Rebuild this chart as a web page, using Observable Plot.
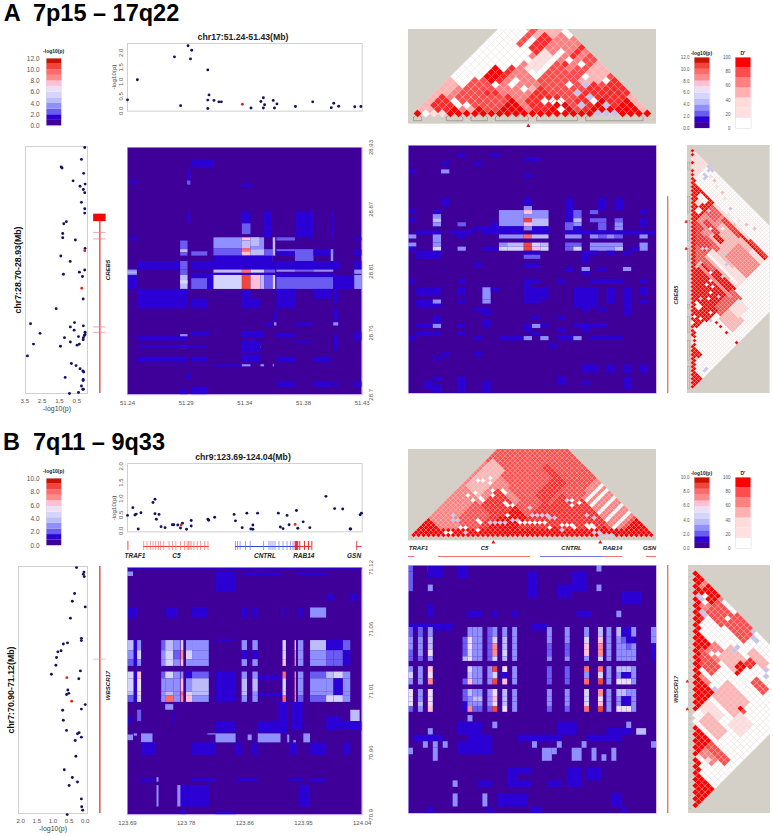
<!DOCTYPE html>
<html><head><meta charset="utf-8">
<script src="https://cdn.jsdelivr.net/npm/d3@7"></script>
<script src="https://cdn.jsdelivr.net/npm/@observablehq/plot@0.6"></script>
<style>
html,body{margin:0;padding:0;background:#fff}
#root{position:relative;width:773px;height:836px;overflow:hidden;font-family:"Liberation Sans",Arial,sans-serif}
.lb{position:absolute;white-space:pre;transform-origin:center}
</style></head><body><div id="root"></div>
<script>
// ---------- colour keys ----------
const heatPalette=["#3f0099","#2a00d5","#6a5cf0","#8f8fff","#bcbcfa","#d4d4ff","#ebe0f5","#ffc0d8","#ff8c8c","#ff6a6a","#f0453a","#cc1100"];
const dprimePalette=["#ffffff","#ffe0e0","#ffb4b4","#ff8080","#ff4d4d","#ff2a2a","#ff0000","#c2c6ee"];
const legendDprimeColors=["#ffffff","#ffe0e0","#ffdcdc","#ffb0b0","#ff8080","#ff4d4d","#ff0000"];
// ---------- panel A: association points ----------
const topA=[[51.240,.38],[51.248,1.07],[51.278,1.86],[51.283,.18],[51.289,2.24],[51.292,2.09],[51.291,1.79],[51.305,1.41],[51.306,.55],[51.305,.37],[51.305,.08],[51.310,.36],[51.314,.31],[51.316,.31],[51.340,.10],[51.348,.32],[51.350,.45],[51.351,.21],[51.350,.10],[51.358,.36],[51.361,.24],[51.359,.10],[51.376,.15],[51.390,.31],[51.405,.11],[51.407,.26],[51.411,.16],[51.424,.14],[51.429,.15]];
const topARed=[[51.333,.23]];
const sideA=[[.04,28.929],[.23,28.918],[1.40,28.911],[1.35,28.910],[.10,28.905],[.71,28.898],[.02,28.895],[.31,28.893],[.12,28.890],[.04,28.887],[.23,28.878],[.04,28.872],[.04,28.868],[1.10,28.860],[1.25,28.858],[1.31,28.849],[1.31,28.845],[.58,28.843],[.02,28.835],[1.42,28.828],[.88,28.823],[.04,28.815],[.35,28.813],[1.27,28.811],[.17,28.809],[.13,28.788],[1.69,28.779],[3.17,28.765],[.63,28.766],[.12,28.763],[.87,28.762],[.65,28.759],[2.62,28.756],[.02,28.757],[.02,28.755],[.06,28.754],[1.21,28.752],[.40,28.753],[.12,28.752],[.13,28.750],[.87,28.748],[3.00,28.746],[.35,28.746],[.48,28.745],[1.44,28.744],[3.35,28.735],[.81,28.728],[.54,28.726],[.31,28.723],[.15,28.721],[.10,28.720],[1.17,28.715],[.13,28.713],[.13,28.712],[.23,28.707],[.15,28.704],[.12,28.704],[.40,28.701],[.92,28.700]];
const sideARed=[[.04,28.833],[.21,28.798]];
// ---------- panel B: association points ----------
const topB=[[123.690,.48],[123.698,.72],[123.701,.49],[123.703,.52],[123.706,.06],[123.710,.56],[123.728,.88],[123.731,.98],[123.731,.53],[123.737,.51],[123.733,.36],[123.740,.13],[123.746,.10],[123.757,.19],[123.759,.19],[123.765,.18],[123.769,.09],[123.772,.24],[123.778,.05],[123.785,.15],[123.785,.32],[123.810,.36],[123.811,.33],[123.820,.42],[123.849,.51],[123.851,.31],[123.861,.10],[123.868,.55],[123.874,.06],[123.877,.05],[123.877,.18],[123.884,.55],[123.915,.55],[123.918,.12],[123.922,.07],[123.928,.48],[123.931,.19],[123.942,.63],[123.944,.08],[123.952,.28],[123.962,.10],[123.986,1.07],[123.999,.69],[124.011,.68],[124.022,.06],[124.023,.06],[124.037,.50],[124.039,.55]];
const topBRed=[[123.770,.18],[123.940,.20]];
const sideB=[[.27,71.119],[.04,71.115],[.06,71.113],[.03,71.111],[.33,71.096],[.40,71.089],[0,71.084],[.46,71.074],[.12,71.056],[.12,71.054],[.55,71.052],[.68,71.051],[.75,71.045],[.85,71.044],[.89,71.039],[.91,71.032],[.15,71.027],[1.05,71.024],[.20,71.020],[.54,71.010],[.51,71.007],[.58,71.006],[0,70.997],[.12,70.993],[.70,70.992],[.68,70.983],[.58,70.974],[.19,70.972],[.24,70.971],[.12,70.968],[.31,70.965],[.29,70.951],[.65,70.939],[.40,70.932],[.24,70.928],[.50,70.925],[.12,70.913],[.11,70.906],[.08,70.903],[.56,70.899]];
const sideBRed=[[.57,71.021],[.42,71.000]];
// ---------- gene models (kb from window start) ----------
const c5Exons=[24,29,34,38,42,46,49,54,62,67,72,79,85,89,91,93,95,99,104,109,115,120];
const cntrlExons=[161,164,168,176,183,203,211,214,217,220,226,232,238,243,247];
const rab14Exons=[250,251,252,253,254,257,264,270,275];
const otherExons=[0.5,342];
const geneLinesB=[{a:24,b:122,c:"#e02828"},{a:161,b:251,c:"#2030d8"},{a:250,b:275,c:"#e02828"},{a:342,b:350,c:"#e02828"}];
const geneNamesB=[{k:11,t:"TRAF1"},{k:73,t:"C5"},{k:205,t:"CNTRL"},{k:263,t:"RAB14"},{k:338,t:"GSN"}];
const creb5Exons=[28.850,28.844,28.762,28.757];
// ---------- interaction heat maps: [x1,x2,y1,y2,level], kb from window start ----------
const heatALeft=[[0,190,0,230,0],[52.6,70.2,211,218,1],[1.4,8,196,199,1],[48.6,51.3,195,199,2],[48.6,51.3,199,210,1],[93,101,193,196,1],[48.6,51.3,159,170,1],[93,100,159,170,1],[93,100,149,159,2],[111,117,146,170,1],[136,151,146,170,1],[165,167,146,170,1],
[1.4,8,143,146,1],[43,49,135,143,2],[43,49,132,135,4],[43,49,129,132,2],[52,65,129,133,2],[70,93,136,146,3],[70,93,129,136,2],[93,100,143,146,7],[93,100,136,143,4],[93,100,133,136,9],[93,100,129,133,7],[100,111,135,146,3],[100,107,138,146,4],[100,111,129,135,4],[111,118,124,135,2],[118,120,129,146,4],[121,136,143,146,2],[121,136,133,135,2],[121,136,129,133,1],[136,151,124,135,2],[151,165,129,135,1],[165,167,124,135,3],[184,190,143,146,1],[184,190,129,135,1],
[8,43,116,124,1],[43,49,116,124,2],[52,70,116,124,1],[70,118,116,129,1],[118,167,116,124,1],[167,172,116,124,1],[184,190,116,124,1],
[0,8,111,116,3],[0,8,113,114,4],[43,49,111,116,2],[52,70,108,113,1],[70,93,113,116,4],[93,100,112,116,9],[100,111,113,116,5],[111,120,113,116,2],[121,136,114,116,3],[136,151,114,116,2],[151,167,114,116,3],[184,190,112,116,3],[70,167,109,113,1],
[0,8,98,111,1],[43,49,98,111,4],[43,49,103,106,5],[52,65,98,108,2],[65,70,98,108,1],[70,93,98,111,5],[93,100,98,111,10],[100,108,98,111,7],[108,111,98,111,4],[111,118,98,111,2],[118,120,98,111,5],[121,167,98,109,2],[167,172,98,111,1],[172,184,98,110,1],[184,190,98,111,3],
[8,49,80,98,1],[52,65,80,89,1],[93,108,80,89,1],[93,100,89,98,1],[121,136,80,98,1],[151,165,89,98,1],[167,171,85,98,1],[167,171,68,80,1],[167,171,64,67,3],[119,121,64,67,3],[112,118,64,67,1],[136,150,64,67,1],[119,121,68,78,1],
[8,49,50,54,1],[43,49,54,56,3],[43,49,43,45,3],[8,65,43,45,1],[52,67,54,59,1],[93,111,53,59,1],[121,136,53,57,1],[100,108,43,45,3],[93,108,39,50,1],[136,150,48,50,1],[167,171,42,56,1],[184,190,50,58,1],
[8,49,30,35,1],[52,65,30,35,1],[93,108,30,37,1],[121,136,30,35,1],[151,165,30,35,1],[70,93,26,28,1],[93,100,26,28,3],[108,111,26,28,3],[118,119,26,28,3],[121,136,7,12,1],[151,165,7,12,1],[167,171,7,12,1],[184,190,7,12,1],[52,65,0,7,1],[43,49,0,5,1],[48,52,14,19,1]];
const heatBBands=[[146,155],[138,146],[132,138],[121,127],[109,121],[106,109],[100,106]];
const heatBColumns=[{a:0,b:10,v:[4,3,2,5,5,4,2]},{a:10,b:15,v:[1,1,1,1,1,1,1]},{a:15,b:21,v:[3,5,3,7,6,6,5]},{a:51,b:57,v:[2,3,3,2,3,3,3]},{a:57,b:69,v:[4,5,5,5,3,4,9]},{a:69,b:79,v:[3,2,3,3,3,3,3]},{a:80,b:84,v:[5,8,7,3,7,9,8]},{a:88,b:97,v:[3,5,3,1,3,5,7]},{a:97,b:122,v:[3,3,3,2,4,4,3]},{a:171,b:179,v:[3,1,3,3,4,4,3]},{a:187,b:195,v:[3,1,3,3,4,3,3]},{a:232,b:237,v:[5,5,7,9,5,5,9]},{a:250,b:252,v:[7,8,8,8,8,8,8]},{a:255,b:263,v:[3,3,3,3,3,3,2]},{a:273,b:297,v:[4,3,3,2,3,3,2]},{a:297,b:308,v:[1,2,2,4,3,3,5]},{a:308,b:322,v:[1,2,2,5,1,1,5]},{a:322,b:333,v:[2,1,1,3,3,3,3]}];
const heatBLeft=[[0,350,0,220,0],[0,9,212,216,3],[132,162,198,216,1],[174,229,212,215,1],[253,298,212,215,1],[298,308,190,196,1],[333,343,190,196,1],[0,350,218,220,1],[0,15,175,184,1],[57,75,175,184,1],[97,120,175,184,1],[171,179,175,184,1],[187,194,175,184,1],[233,237,175,184,1],[256,262,175,184,1],[273,297,175,184,3],[132,160,154,156,1],
[132,162,100,127,1],[195,230,120,123,1],[195,240,105,108,1],[57,69,93,98,3],[15,21,83,93,2],[333,347,83,93,4],[297,320,82,87,1],[297,350,75,83,1],[0,6,80,87,1],[69,73,80,90,1],[132,162,73,83,1],[195,229,73,83,1],[245,262,75,100,1],[226,240,72,100,1],
[0,9,66,71,3],[21,38,64,72,3],[10,15,70,72,3],[120,132,71,72,3],[132,162,64,72,3],[180,186,66,71,3],[195,229,64,72,3],[239,242,64,71,3],[263,273,64,72,3],[248,252,62,66,3],
[21,42,53,64,1],[97,132,53,64,1],[162,171,53,64,1],[187,195,53,64,1],[243,253,53,64,1],[273,297,53,64,1],[322,333,53,64,1],[44,47,29,33,3],[18,40,29,32,1],[97,132,29,32,1],[162,195,29,32,1],[243,263,29,32,1],[273,297,29,32,1],[44,47,7,26,3],[75,80,7,26,3],[80,122,7,26,1],[256,273,7,26,1],[132,162,0,3,1],[80,88,0,4,1]];
// right-hand heat maps on the marker grid: [col1,col2,row1,row2,level]
const heatARight=[[6,6,2,2,1],[10,10,2,2,1],[14,15,3,3,1],[4,4,4,4,1],[8,8,4,4,1],[0,0,6,6,1],[4,4,6,6,3],[14,14,7,7,1],[4,4,13,14,1],[14,14,13,14,1],[19,19,13,15,1],[23,23,13,15,1],[25,25,13,15,1],[14,14,15,15,3],
[0,0,16,16,1],[3,3,16,16,1],[11,13,16,19,3],[14,14,16,16,7],[15,16,16,17,3],[19,19,16,17,1],[20,20,16,17,2],[22,22,16,16,2],[28,28,16,16,1],[3,3,17,17,3],[14,14,17,17,3],[0,0,18,18,1],[3,3,18,18,4],[14,14,18,18,10],[15,16,18,19,4],[19,19,18,18,1],[20,20,18,18,4],[22,23,18,18,2],[25,25,18,18,2],[28,28,18,19,1],[3,3,19,19,3],[6,6,19,19,2],[10,10,19,19,1],[14,14,19,19,7],[19,19,19,20,2],[20,20,19,19,3],[23,23,19,20,2],[25,25,19,19,3],[25,25,20,20,3],[8,8,20,20,1],[9,13,20,21,1],[14,14,20,20,3],[15,16,20,21,1],[20,20,20,21,1],[1,3,21,21,1],[5,7,21,21,1],[19,29,21,21,1],
[0,0,22,22,3],[3,3,22,23,3],[6,6,22,22,1],[11,13,22,22,3],[14,14,22,22,9],[15,16,22,22,4],[19,20,22,22,3],[22,22,22,22,3],[23,23,22,22,2],[24,24,22,22,3],[25,25,22,22,2],[28,28,22,22,3],
[0,0,24,24,3],[3,3,24,24,3],[11,11,24,24,3],[12,13,24,24,4],[14,14,24,24,10],[15,15,24,24,5],[16,16,24,24,4],[19,20,24,24,2],[22,25,24,24,3],[28,28,24,25,3],[0,0,25,25,1],[3,3,25,25,5],[6,6,25,25,3],[9,10,25,25,1],[11,11,25,25,5],[12,13,25,25,5],[14,14,25,25,10],[15,15,25,25,7],[16,16,25,25,5],[19,19,25,25,2],[20,20,25,25,5],[22,24,25,25,3],[25,25,25,25,4],[27,27,25,25,1],[1,3,26,27,1],[14,15,26,26,1],[14,15,27,27,2],[21,22,26,26,1],[24,24,26,26,1],[26,26,26,26,1],[21,21,27,28,1],[8,8,29,29,1],[14,15,29,29,1],[19,19,30,30,1],[21,21,30,30,3],[23,23,30,30,1],[26,26,30,30,3],[21,21,31,31,1],
[0,0,33,33,1],[6,6,33,33,1],[14,15,33,33,1],[18,18,33,33,1],[22,25,33,33,1],[28,28,33,33,1],[14,14,34,34,1],[1,3,35,36,1],[6,6,35,36,1],[9,9,35,37,3],[10,10,35,35,1],[14,16,35,37,1],[20,22,35,39,1],[24,24,35,38,1],[26,26,35,39,1],[28,28,35,36,1],[1,3,38,39,1],[3,3,38,38,3],[6,6,38,38,1],[9,9,38,38,3],[14,15,38,38,1],[28,28,38,38,1],[21,21,40,40,1],[23,23,40,40,1],[26,26,40,41,1],[8,9,40,40,1],[9,9,41,41,1],[18,18,42,42,1],[15,15,42,42,1],[3,3,42,43,1],[9,9,43,43,1],[1,3,44,44,1],[3,3,44,44,3],[6,6,44,44,1],[9,9,44,44,1],[14,16,44,44,1],[15,15,44,44,3],[20,23,44,44,1],[18,18,45,45,1],[14,14,45,45,1],[21,21,45,45,1],[1,3,46,46,1],[6,6,46,46,1],[15,15,46,46,1],[0,0,47,47,1],[8,8,47,47,1],[11,13,47,47,1],[14,14,47,47,3],[16,16,47,47,3],[18,19,47,47,1],[20,20,47,47,3],[22,22,47,47,1],[23,25,47,47,1],[17,17,49,49,1],[4,4,51,51,1],[8,8,51,51,1],[3,3,52,52,1],[21,22,54,55,1],[24,24,54,55,1],[26,26,54,55,1],[28,28,54,55,1],[3,3,57,57,1],[6,6,57,58,1],[18,18,57,58,1],[26,26,57,59,1],[2,2,58,59,1],[6,6,58,60,1],[9,9,58,60,1],[21,21,58,58,1],[3,3,59,60,1]];
const heatBRightBands=[[9.5,11],[11,12],[12,13],[13,14],[14,14.7],[15.5,16.4],[16.4,17.4],[17.4,18.3],[19,20.1],[20.1,20.9],[20.9,21.6],[21.6,22.5]];
const heatBRightColumns=[{c:0,v:[2,3,3,2,2,3,5,3,6,6,6,2]},{c:2,v:[2,3,3,3,2,3,3,3,3,3,4,3]},{c:4,v:[3,4,4,6,3,7,6,8,6,6,6,7]},{c:11,v:[0,2,2,2,4,0,0,2,2,2,1,1]},{c:12,v:[3,6,6,5,6,5,4,7,4,3,3,8]},{c:13,v:[3,3,3,3,3,3,3,3,3,4,3,2]},{c:14,v:[3,3,3,3,3,3,3,3,3,4,3,2]},{c:16,v:[2,2,2,2,2,3,3,3,3,3,3,2]},{c:17,v:[3,5,8,8,5,10,5,10,6,7,6,10]},{c:19,v:[3,4,4,5,4,6,1,7,4,4,4,6]},{c:21,v:[3,3,3,3,3,3,3,3,3,3,3,3]},{c:28,v:[3,3,2,2,3,2,2,2,3,3,3,2]},{c:31.6,v:[3,3,2,2,3,2,2,2,3,3,3,2]},{c:35.5,v:[3,5,7,7,3,9,3,9,5,5,5,9]},{c:38.3,v:[4,7,8,8,5,9,5,10,8,6,7,10]},{c:40,v:[3,3,3,3,3,3,3,3,3,3,3,3]},{c:42,v:[4,3,3,3,3,4,3,6,4,3,3,6]},{c:43,v:[1,2,3,3,3,4,1,6,4,1,1,6]},{c:44,v:[1,1,2,3,3,4,1,6,3,1,1,6]},{c:45,v:[3,1,3,3,3,3,3,3,3,3,3,3]},{c:49,v:[3,3,1,1,1,0,0,0,0,0,0,0]}];
const heatBRightExtra=[[0,0,0,0,2],[4,4,0,0,3],[38,38,0,0,3],[0,0,1,3,2],[4,6,0,1,1],[10,11,0,1,1],[25,25,2,2,3],[24,25,1,4,1],[33,35,1,3,1],[4,4,3,3,3],[38,38,3,3,3],[12,14,7,7,1],[4,4,6,7,1],[17,17,7,7,1],[21,21,7,7,1],[34,36,7,7,1],[42,42,7,7,3],[0,8,9,9,1],[25,27,9,9,1],[43,46,4,5,1],[30,32,3,4,1],[12,12,23,23,3],[17,17,24,24,3],[4,4,25,25,3],[44,44,24,24,3],[46,47,25,25,4],[10,14,24,25,1],[30,33,24,25,1],[40,44,25,25,1],[1,6,26,26,1],[12,16,26,26,1],[22,30,26,26,1],[36,42,26,26,1],[3,3,27,27,3],[5,5,27,27,3],[7,7,27,27,3],[25,25,27,27,3],[30,30,27,27,3],[35,35,27,27,3],[49,49,27,27,3],[10,16,27,28,1],[0,0,28,28,3],[5,5,28,29,3],[27,28,28,29,3],[29,29,28,28,3],[33,34,28,29,3],[37,37,28,29,3],[39,39,29,29,3],[41,41,28,29,3],[9,9,33,33,3],[9,9,35,36,3],[15,15,35,36,3],[18,23,35,36,1],[20,24,31,31,1],[20,21,32,33,1],[22,24,33,33,1],[28,30,33,33,1],[41,42,35,36,1],[32,34,31,33,1],[36,38,31,32,1],[14,16,33,33,1],[4,4,37,37,1],[16,16,37,37,1],[25,26,37,37,1],[43,43,37,37,1]];
// ---------- LD triangles: [i1,i2,j1,j2,D' level], painted in order; then single cells ----------
const ldTopA=[[0,29,0,29,2],[0,6,9,24,0],[0,2,5,9,2],[2,5,5,9,3],[3,5,8,12,4],[7,14,12,22,3],[14,22,15,29,4],[8,13,24,29,3],[4,9,9,13,4],[1,3,4,6,5],[4,5,14,16,6],[6,6,15,18,5],[4,4,22,26,4],[6,7,23,26,5],[8,9,20,24,1],[10,10,20,26,0],[12,12,24,29,5],[16,18,25,29,2],[0,1,0,1,6],[4,6,4,6,6],[7,9,7,9,6],[10,14,10,14,6],[15,20,15,20,6],[21,28,21,28,6],[12,15,16,20,5],[11,14,20,24,4],[18,20,22,26,5],[20,23,26,29,5]];
const ldTopASpots=[[1,2,0],[3,7,0],[4,7,0],[5,8,0],[14,18,0],[15,19,0],[17,19,0],[15,23,0],[10,23,0],[8,17,0],[8,16,0],[9,20,0],[10,17,0],[16,20,0],[20,24,0],[11,18,2],[17,23,7],[17,25,7],[19,24,7],[19,22,7],[22,23,7],[23,24,7],[22,25,7],[24,25,7],[2,3,1],[3,4,1],[12,26,0],[14,27,0],[16,26,0],[19,28,0],[7,21,0],[6,12,5],[7,13,5],[9,14,5],[8,29,0],[9,29,0]];
const ldTopB=[[0,49,0,49,4],[0,14,8,30,3],[0,7,0,7,6],[3,12,14,30,3],[1,5,22,32,2],[8,26,14,27,5],[14,22,14,22,6],[15,27,15,27,6],[20,30,20,34,5],[27,41,27,41,6],[22,36,32,42,5],[42,49,42,49,6],[26,40,43,49,3],[30,30,43,49,0],[33,33,43,49,0],[36,36,43,49,0],[39,39,43,49,0],[28,28,43,49,0],[13,20,34,42,5],[10,16,30,40,4],[21,26,40,44,4],[6,11,13,20,4],[9,13,10,13,3]];
const ldTopBSpots=[[8,12,0],[9,13,0],[10,12,7],[6,8,0],[7,9,0],[10,17,0],[11,17,0],[12,15,0],[13,19,7],[14,20,7],[15,21,7],[16,22,7],[17,24,7],[18,25,7],[19,25,0],[20,29,7],[21,30,7],[22,31,7],[23,32,7],[24,32,7],[25,33,7],[20,26,0],[21,27,0],[23,29,0],[24,30,0],[28,33,0],[29,34,0],[30,35,0],[31,35,0],[33,38,0],[34,38,0],[34,39,0],[35,39,0],[36,38,7],[37,39,7],[29,32,7],[31,40,7],[33,41,7],[24,39,7],[25,40,0],[26,39,0],[27,41,0],[12,26,0],[13,26,0],[9,28,0],[10,28,0],[8,25,0],[7,26,0],[5,12,7],[4,13,7],[6,13,7],[14,27,0],[15,24,0],[18,30,7],[22,28,0],[26,30,0],[38,39,7],[39,40,7],[40,41,7],[3,20,0],[4,22,0],[5,20,0],[6,22,0],[7,22,0],[2,25,0],[3,26,0],[4,28,0],[5,27,0]];
const ldSideA=[[0,60,0,60,0],[0,8,0,8,1],[8,36,20,46,1],[9,30,26,40,2],[8,19,8,19,6],[9,10,14,17,0],[11,12,15,16,1],[13,14,17,18,0],[9,18,20,26,3],[9,12,20,24,4],[14,15,22,28,5],[17,20,19,23,5],[9,10,26,34,5],[9,9,34,46,6],[12,18,36,46,3],[18,20,26,32,4],[15,16,28,31,6],[8,8,38,46,5],[22,22,30,45,0],[20,21,30,42,1],[23,23,30,42,2],[24,36,32,46,6],[24,25,30,36,4],[25,34,46,50,4],[27,27,32,47,3],[34,47,34,47,6],[37,38,40,42,0],[30,35,50,56,2],[26,30,50,54,1],[40,47,47,50,0],[49,54,49,54,6],[55,60,55,60,6],[20,30,24,30,4],[19,22,24,29,5]];
const ldSideASpots=[[0,1,6],[1,2,6],[3,4,6],[5,6,6],[6,7,6],[0,9,7],[0,10,7],[0,11,7],[1,10,7],[3,10,7],[3,11,7],[4,11,7],[51,54,7],[51,59,7],[52,59,7],[37,50,6],[37,52,6],[37,55,6],[37,60,6],[2,12,1],[2,14,2],[3,16,1],[3,19,2],[4,21,1],[5,25,7],[7,26,1],[8,30,2],[11,20,7],[21,29,7],[22,28,7],[18,35,7],[20,38,7],[24,40,7],[30,44,7],[28,38,0],[29,40,0],[31,41,0],[33,42,0],[30,38,0],[26,36,0],[35,40,7],[38,48,7],[36,46,0],[43,44,0],[44,46,0],[40,45,0],[41,43,0],[15,25,0],[12,28,0],[47,48,1],[48,49,1],[6,30,1],[5,33,2],[4,36,2]];
const ldSideB=[[0,37,0,37,0],[0,4,0,4,6],[0,8,4,9,3],[1,4,9,13,4],[5,9,5,9,5],[0,2,5,8,6],[9,14,9,14,6],[11,13,14,19,4],[8,10,15,18,3],[6,9,18,22,2],[0,3,14,19,4],[7,8,22,23,6],[5,6,23,24,5],[3,4,22,26,2],[15,15,15,20,3],[16,22,16,22,6],[12,16,23,29,2],[18,20,23,27,1],[7,8,27,30,4],[24,29,24,29,6],[25,26,25,26,0],[24,25,30,35,4],[26,27,30,33,3],[31,37,31,37,6],[20,22,25,30,2],[15,18,30,33,1]];
const ldSideBSpots=[[0,19,7],[1,20,7],[1,21,7],[3,5,7],[3,6,7],[5,9,7],[5,8,7],[5,19,7],[6,19,7],[5,28,7],[4,27,7],[14,29,6],[14,30,4],[8,22,6],[9,23,6],[2,6,0],[3,7,0],[7,12,0],[8,12,0],[10,16,0],[9,17,0],[2,13,0],[4,16,0],[6,14,0],[7,16,0],[15,22,7],[28,30,1],[27,32,1],[22,23,0],[23,24,0],[22,24,0],[21,23,0],[23,25,0]];
const ldBlocksTopA=[[0,1],[4,6],[7,9],[10,14],[15,20],[21,28]];
const ldBlocksSideA=[[3.5,5.3],[12,16],[18,23],[25,28],[39,40],[42,46],[48,53],[54.5,60]];
const flaggedMarkers={topA:[14],sideA:[18.25,25],topB:[16.6,38.2],sideB:[17.3,21.6]};
// ---------- tick labels ----------
const ticksA={x:["51.24","51.29","51.34","51.38","51.43"],y:["28.7","28.76","28.81","28.87","28.93"]};
const ticksB={x:["123.69","123.78","123.86","123.95","124.04"],y:["70.9","70.96","71.01","71.06","71.12"]};
const legendA=[0,2,4,6,8,10,12];const legendB=[0,2,4,6,8,10];const legendD=[0,20,40,60,80,100];

const root=document.getElementById("root");
const FONT='"Liberation Sans",Arial,sans-serif';
function label(t,x,y,o={}){const d=document.createElement("div");d.className="lb";d.textContent=t;
 d.style.cssText+=`left:${x}px;top:${y}px;font-size:${o.size||7}px;font-weight:${o.bold?700:400};font-style:${o.italic?"italic":"normal"};color:${o.color||"#222"};transform:translate(-50%,-50%) rotate(${o.rot||0}deg);`;root.appendChild(d)}
function panel(f,opts){const m=Object.assign({l:0,r:0,t:0,b:0},f.m||{});
 const svg=Plot.plot({width:f.x1-f.x0+m.l+m.r,height:f.y1-f.y0+m.t+m.b,marginLeft:m.l,marginRight:m.r,marginTop:m.t,marginBottom:m.b,
  style:{position:"absolute",left:(f.x0-m.l)+"px",top:(f.y0-m.t)+"px",background:"transparent",fontFamily:FONT,overflow:"visible"},...opts});
 root.appendChild(svg);return svg}
const pts=a=>a.map(([x,y])=>({x,y}));
const dotMarks=(a,r)=>[Plot.dot(pts(a),{x:"x",y:"y",r:1.45,fill:"#12125e"}),Plot.dot(pts(r),{x:"x",y:"y",r:1.45,fill:"#e02a20"})];
const axFrame="#cfcfd4",tickC="#555";

function topPanel(f,a,r,domX,domY){panel({...f,m:{l:16,t:2,b:2,r:2}},{x:{domain:domX,axis:null},y:{domain:domY,axis:null},marks:[Plot.frame({stroke:axFrame}),
  Plot.axisY({anchor:"left",ticks:[0,.5,1,1.5,2],tickFormat:d3.format(".1f"),tickSize:0,tickPadding:5,tickRotate:-90,fontSize:6,color:tickC,label:null}),...dotMarks(a,r)]})}
function sidePanel(f,a,r,domX,ticks,domY){panel({...f,m:{b:10,t:1,l:2,r:1}},{x:{domain:domX,axis:null},y:{domain:domY,axis:null},marks:[Plot.frame({stroke:axFrame}),
  Plot.axisX({anchor:"bottom",ticks,tickFormat:d3.format(".1f"),tickSize:0,tickPadding:5,fontSize:6.2,color:tickC,label:null}),...dotMarks(a,r)]})}
function heatRects(data,palette){return Plot.rect(data.map(([a,b,c,d,l])=>({a,b,c,d,l})),{x1:"a",x2:"b",y1:"c",y2:"d",fill:d=>palette[d.l]})}
function leftHeat(f,blocks,xMax,yMax,tx,ty){const xv=tx.map((_,i)=>i*xMax/4),yv=ty.map((_,i)=>i*yMax/4);
 panel({...f,m:{r:18,b:14,l:14,t:8}},{x:{domain:[0,xMax],axis:null},y:{domain:[0,yMax],axis:null},marks:[heatRects(blocks,heatPalette),Plot.frame({stroke:"#bba8ff",strokeWidth:.7}),
  Plot.axisX({anchor:"bottom",ticks:xv,tickFormat:(d,i)=>tx[i],tickSize:0,tickPadding:6,fontSize:6,color:tickC,label:null}),
  Plot.axisY({anchor:"right",ticks:yv,tickFormat:(d,i)=>ty[i],tickSize:0,tickPadding:11,tickRotate:-90,fontSize:6,color:tickC,label:null})]})}
function rightHeat(f,blocks,cols,rows){panel(f,{x:{domain:[0,cols],axis:null},y:{domain:[rows,0],axis:null},marks:[heatRects(blocks,heatPalette),Plot.frame({stroke:"#bba8ff",strokeWidth:.7})]})}
const grid=(b)=>b.map(([a,b2,c,d,l])=>[a,b2+1,c,d+1,l]);
// near = {d, l, from, to}: cells within d of the base take level l for markers from..to
function paint(n,layers,spots,near){const m=new Map();for(const [i1,i2,j1,j2,l] of layers)for(let i=i1;i<=i2;i++)for(let j=Math.max(j1,i+1);j<=j2;j++)if(j<n)m.set(i*1000+j,l);
 if(near)for(let i=near.from;i<=near.to;i++)for(let j=i+1;j<=i+near.d&&j<n;j++)m.set(i*1000+j,near.l);
 for(const [i,j,l] of spots)m.set(i*1000+j,l);return [...m].map(([k,l])=>({i:Math.floor(k/1000),j:k%1000,l}))}
const diamond=()=>({draw(c,s){const r=Math.sqrt(s/Math.PI);c.moveTo(0,-r);c.lineTo(r,0);c.lineTo(0,r);c.lineTo(-r,0);c.closePath()}});
const gray="#d4d0c8";
function triMarks(cells,o){const hor=o.hor;const X=d=>hor?(d.i+d.j)/2:d.j-d.i,Y=d=>hor?d.j-d.i:(d.i+d.j)/2;
 return [Plot.dot(cells,{x:X,y:Y,r:o.r,symbol:diamond(),fill:d=>dprimePalette[d.l],stroke:"#f3dede",strokeWidth:.3,clip:"frame"})]}
function ldPanel(f,cells,dx,dy,r,hor,extra,m){panel({...f,m},{x:{domain:dx,axis:null},y:{domain:dy,axis:null},marks:[Plot.rect([0],{x1:dx[0],x2:dx[1],y1:dy[0],y2:dy[1],fill:gray}),...triMarks(cells,{r,hor}),...extra]})}
const blockLines=(b)=>b.flatMap(([a,c],k)=>[[a,0],[(a+c)/2,c-a],[c,0],[c,-.8],[a,-.8],[a,0]].map(([x,y])=>({x,y,k})));
const flagH=(a,yv)=>Plot.dot(a.map(x=>({x})),{x:"x",y:()=>yv,r:1.5,symbol:"triangle",fill:"#e01818",clip:false});
const flagV=(a,xv)=>Plot.dot(a.map(y=>({y})),{y:"y",x:()=>xv,r:1.3,symbol:"triangle",fill:"#e01818",clip:false});
function legend(x0,y0,y1,w,vals,colors,max,size,title,lx,ty){const n=colors.length,bins=colors.map((c,i)=>({a:i*max/n,b:(i+1)*max/n,c}));
 panel({x0,x1:x0+w,y0,y1,m:{l:26,t:2,b:4,r:1}},{x:{domain:[0,1],axis:null},y:{domain:[0,max],axis:null},marks:[Plot.rect(bins,{x1:()=>0,x2:()=>1,y1:"a",y2:"b",fill:"c"}),Plot.frame({stroke:"#d8d8e0",strokeWidth:.5}),
  Plot.axisY({anchor:"left",ticks:vals,tickFormat:lx,tickSize:0,tickPadding:size>5.5?7:5,fontSize:size,color:tickC,label:null})]});
 label(title,x0+w/2,ty,{size:5,bold:true})}
const f1=d3.format(".1f");

// ---------- headings ----------
label("A  7p15 – 17q22",91.5,13,{size:23.5,bold:true,color:"#000"});
label("B  7q11 – 9q33",84,441.7,{size:23.5,bold:true,color:"#000"});
label("chr17:51.24-51.43(Mb)",243,36.7,{size:8.7,bold:true});
label("chr9:123.69-124.04(Mb)",243,457.3,{size:8.7,bold:true});
label("chr7:28.70-28.93(Mb)",18,270,{size:8.8,bold:true,rot:-90,color:"#111"});
label("chr7:70.90-71.12(Mb)",11,690,{size:8.8,bold:true,rot:-90,color:"#111"});
label("-log10(p)",113,76.7,{size:6.2,rot:-90,color:"#444"});
label("-log10(p)",113,508,{size:6.2,rot:-90,color:"#444"});
label("-log10(p)",57,408,{size:7,color:"#444"});
label("-log10(p)",53,828,{size:7,color:"#444"});

// ---------- legends ----------
legend(46,57.5,125,15.3,legendA,heatPalette,12,6.5,"-log10(p)",f1,51);
legend(46,477.7,545,15.3,legendB,heatPalette,10,6.5,"-log10(p)",f1,471);
legend(693.7,57.3,128.3,15.6,legendA,heatPalette,12,4.5,"-log10(p)",f1,52.7);
legend(735,57.3,128.3,15.6,legendD,legendDprimeColors,100,4.5,"D'",d3.format("d"),52.7);
legend(693.7,477.3,548.3,15.6,legendB,heatPalette,10,4.5,"-log10(p)",f1,472.7);
legend(735,477.3,548.3,15.6,legendD,legendDprimeColors,100,4.5,"D'",d3.format("d"),472.7);

// ---------- association panels ----------
topPanel({x0:127,x1:361.67,y0:43.33,y1:111},topA,topARed,[51.24,51.43],[-0.01,2.32]);
topPanel({x0:127,x1:361.67,y0:463.33,y1:531.67},topB,topBRed,[123.69,124.04],[-0.03,2.09]);
sidePanel({x0:25.33,x1:87.33,y0:146.33,y1:393.33},sideA,sideARed,[3.46,-0.12],[3.5,2.5,1.5,0.5],[28.70,28.93]);
sidePanel({x0:18.33,x1:87.33,y0:566.33,y1:813.33},sideB,sideBRed,[2.07,-0.07],[2,1.5,1,.5,0],[70.90,71.12]);

// ---------- gene tracks ----------
panel({x0:90,x1:115,y0:146.33,y1:393.33},{x:{domain:[-1.5,2.5],axis:null},y:{domain:[28.70,28.93],axis:null},marks:[
 Plot.ruleX([0],{y1:28.70,y2:28.867,stroke:"#d02020",strokeWidth:1.1}),
 Plot.rect([0],{x1:-1,x2:1,y1:28.860,y2:28.867,fill:"#f00808"}),
 Plot.ruleY(creb5Exons,{x1:-1,x2:1,stroke:"#f08080",strokeWidth:.7}),
 Plot.text(["CREB5"],{x:()=>1.35,y:()=>28.815,rotate:-90,fontSize:6,fontWeight:"bold",fontStyle:"italic",fill:"#222"})]});
panel({x0:90,x1:115,y0:566.33,y1:813.33},{x:{domain:[-1.5,2.5],axis:null},y:{domain:[70.90,71.12],axis:null},marks:[
 Plot.ruleX([0],{y1:70.90,y2:71.12,stroke:"#c81818",strokeWidth:1.1}),
 Plot.ruleY([71.0375],{x1:-1,x2:1,stroke:"#f0a090",strokeWidth:.7}),
 Plot.text(["WBSCR17"],{x:()=>1.35,y:()=>71.014,rotate:-90,fontSize:6,fontWeight:"bold",fontStyle:"italic",fill:"#222"})]});
panel({x0:127,x1:361.67,y0:540,y1:562},{x:{domain:[0,350],axis:null},y:{domain:[0,22],axis:null},marks:[
 Plot.ruleY(geneLinesB,{x1:"a",x2:"b",y:()=>16,stroke:"c",strokeWidth:.9}),
 Plot.ruleX(c5Exons,{y1:12,y2:21,stroke:"#f06060",strokeWidth:.8,strokeOpacity:.75}),
 Plot.ruleX(cntrlExons,{y1:12,y2:21,stroke:"#6060f0",strokeWidth:1,strokeOpacity:.6}),
 Plot.ruleX(rab14Exons,{y1:12,y2:21,stroke:"#e81818",strokeWidth:.9}),
 Plot.ruleX(otherExons,{y1:12,y2:21,stroke:"#e02020",strokeWidth:.8}),
 Plot.text(geneNamesB,{x:"k",y:()=>6.5,text:"t",fontSize:6.5,fontWeight:"bold",fontStyle:"italic",fill:"#222"})]});
panel({x0:408.33,x1:656.33,y0:541,y1:560},{x:{domain:[0,248],axis:null},y:{domain:[0,19],axis:null},marks:[
 Plot.ruleY([{a:0,b:6,c:"#ee5050"},{a:30,b:122,c:"#ee5050"},{a:132,b:195,c:"#5050dd"},{a:195,b:214,c:"#ee5050"},{a:238,b:248,c:"#ee5050"}],{x1:"a",x2:"b",y:()=>4,stroke:"c",strokeWidth:.8}),
 Plot.text([{k:10,t:"TRAF1"},{k:76,t:"C5"},{k:163,t:"CNTRL"},{k:204,t:"RAB14"},{k:241,t:"GSN"}],{x:"k",y:()=>12.5,text:"t",fontSize:6,fontWeight:"bold",fontStyle:"italic",fill:"#222"})]});
panel({x0:660,x1:684,y0:145.33,y1:393.33},{x:{domain:[0,24],axis:null},y:{domain:[61,0],axis:null},marks:[
 Plot.ruleX([7.3],{y1:12.6,y2:61,stroke:"#c83030",strokeWidth:.9}),
 Plot.text(["CREB5"],{x:()=>15.7,y:()=>36.8,rotate:-90,fontSize:5.5,fontStyle:"italic",fontWeight:"bold",fill:"#333"})]});
panel({x0:660,x1:684,y0:565.33,y1:813.33},{x:{domain:[0,24],axis:null},y:{domain:[38,0],axis:null},marks:[
 Plot.ruleX([7.3],{y1:0,y2:38,stroke:"#c83030",strokeWidth:.9}),
 Plot.text(["WBSCR17"],{x:()=>15.7,y:()=>19,rotate:-90,fontSize:5.5,fontStyle:"italic",fontWeight:"bold",fill:"#333"})]});

// ---------- heat maps ----------
leftHeat({x0:126.67,x1:361.33,y0:146.67,y1:394},heatALeft,190,230,ticksA.x,ticksA.y);
const heatBAll=[...heatBLeft,...heatBColumns.flatMap(c=>heatBBands.map((b,i)=>[c.a,c.b,b[0],b[1],c.v[i]]))];
leftHeat({x0:126.67,x1:361.33,y0:566.67,y1:814},heatBAll,350,220,ticksB.x,ticksB.y);
rightHeat({x0:408.33,x1:656.33,y0:145.33,y1:393.33},[[0,30,0,61,0],...grid(heatARight)],30,61);
const heatBR=[[0,50,0,38,0],...heatBRightExtra.map(([a,b,c,d,l])=>[a,b+1,c,d+1,l]),...heatBRightColumns.flatMap(c=>heatBRightBands.map((b,i)=>[c.c,c.c+1,b[0],b[1],c.v[i]]))];
rightHeat({x0:408.33,x1:656.33,y0:565.33,y1:813.33},heatBR,50,38);

// ---------- LD triangles ----------
ldPanel({x0:408.33,x1:656.33,y0:29.33,y1:124},paint(30,ldTopA,ldTopASpots,{d:1,l:6,from:0,to:28}),[-.61,29.63],[-1.63,21.46],4.1,true,[
 Plot.line(blockLines(ldBlocksTopA),{x:"x",y:"y",z:"k",stroke:"#444",strokeWidth:.35}),
 flagH(flaggedMarkers.topA,-2.05)],{t:1,b:4});
ldPanel({x0:408.33,x1:656.33,y0:449.33,y1:540.67},paint(50,ldTopB,ldTopBSpots,{d:3,l:6,from:0,to:48}),[-.54,49.56],[-1.35,35.5],2.475,true,[
 Plot.ruleX(d3.range(50),{y1:-.9,y2:-.2,stroke:"#999",strokeWidth:.4}),
 flagH(flaggedMarkers.topB,-2.0)],{t:1,b:4});
ldPanel({x0:687.33,x1:770,y0:145.33,y1:393.33},paint(61,ldSideA,ldSideASpots,{d:2,l:6,from:7,to:59}),[-1.5,39.83],[61.2,-.83],2,false,[
 Plot.rect(ldBlocksSideA,{x1:()=>-1.3,x2:()=>-.1,y1:d=>d[0],y2:d=>d[1],stroke:"#999",strokeWidth:.4,fill:"none"}),
 flagV(flaggedMarkers.sideA,-2.2)],{l:4});
ldPanel({x0:688,x1:770,y0:565.33,y1:813.33},paint(38,ldSideB,ldSideBSpots,{d:2,l:6,from:0,to:36}),[-1.14,24.35],[37.8,-.73],3.2,false,[
 Plot.ruleY(d3.range(38),{x1:-.9,x2:-.2,stroke:"#999",strokeWidth:.4}),
 flagV(flaggedMarkers.sideB,-1.5)],{l:4});
</script></body></html>
